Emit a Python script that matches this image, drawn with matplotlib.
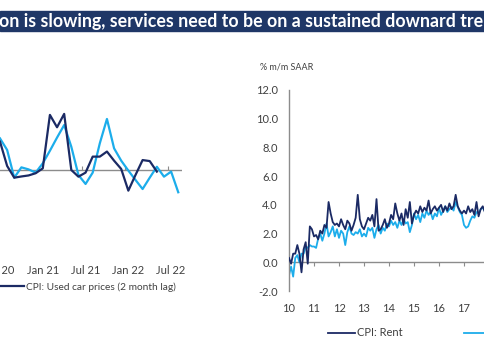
import matplotlib
matplotlib.use("Agg")
import matplotlib.pyplot as plt
from matplotlib.patches import Rectangle
import numpy as np

plt.rcParams['font.family'] = ['Lato', 'DejaVu Sans']

NAVY = "#1b2a64"
LIGHT = "#1cadeb"
AXIS = "#8c8c8c"
TXT = "#404040"
BAR = "#1f3767"

W, H = 485, 360

# -------------------------------------------------------------------------
# Left panel data: monthly, index 0 = Jul 20
# -------------------------------------------------------------------------
car_tick_pos = [-6, 0, 6, 12, 18, 24]
car_tick_labels = ["Jan 20", "Jul 20", "Jan 21", "Jul 21", "Jan 22", "Jul 22"]
used_car_index = [15.6, 9.9, -3.8, 1.3, 0.3, -1.3, 3.3, 9.5, 16.0, 22.2, 11.5, -2.5, -6.9,
                  -1.3, 13.2, 25.2, 10.7, 4.6, -0.3, -4.9, -9.4, -3.8, 1.6, -3.3, -0.8, -11.0]
cpi_used_cars_lag = [14.0, 2.0, -3.8, -3.2, -2.7, -1.6, 0.8, 27.2, 21.1, 27.7, 0.0, -3.3,
                     -1.3, 6.6, 6.6, 9.1, 4.6, 0.5, -10.2, -2.5, 4.9, 4.4, -0.8]

# -------------------------------------------------------------------------
# Right panel data: monthly from Jan 2010, % m/m SAAR
# -------------------------------------------------------------------------
rent_years = list(range(2010, 2023))
rent_tick_labels = [str(y)[2:] for y in rent_years]
cpi_rent = [0.3, -0.1, 0.6, 0.6, 1.2, 0.6, -0.7, 0.9, 1.4, -0.1, 2.5, 2.3,
            1.8, 1.9, 1.6, 2.2, 2.0, 2.6, 2.4, 4.2, 3.4, 2.8, 2.6, 2.7,
            2.5, 3.0, 2.6, 2.3, 2.9, 2.7, 2.2, 2.6, 3.1, 4.7, 3.0, 2.5,
            2.3, 2.7, 3.1, 2.9, 3.3, 2.5, 4.4, 2.2, 2.3, 2.6, 3.0, 2.4,
            2.7, 3.3, 3.0, 4.1, 3.4, 2.9, 3.4, 2.6, 3.7, 3.1, 4.2, 2.7,
            3.3, 3.6, 3.4, 3.9, 3.5, 3.8, 3.6, 4.3, 3.4, 3.7, 3.9, 3.6,
            3.8, 4.0, 3.5, 3.9, 3.6, 4.1, 3.7, 3.9, 4.7, 3.9, 3.6, 3.4,
            3.6, 3.4, 3.9, 3.5, 3.7, 3.3, 4.2, 3.2, 3.7, 3.9, 3.5, 3.8]
cpi_oer = [-0.9, -0.3, -1.0, 0.3, 0.5, 0.0, 0.6, 0.6, 1.1, 1.0, 1.2, 1.1,
           1.1, 1.0, 1.65, 2.0, 1.5, 2.0, 2.7, 1.8, 2.1, 2.5, 1.8, 2.3,
           1.7, 2.2, 2.0, 1.2, 2.1, 2.5, 2.0, 1.9, 2.1, 2.0, 2.3, 1.8,
           2.0, 1.8, 2.4, 2.2, 2.4, 1.7, 2.3, 2.6, 2.0, 2.4, 2.2, 2.7,
           2.5, 2.9, 2.6, 2.8, 2.4, 2.9, 2.6, 3.0, 2.7, 2.8, 2.1, 2.6,
           3.4, 3.0, 3.3, 2.8, 3.4, 3.1, 3.6, 3.3, 3.5, 3.0, 3.4, 3.2,
           3.8, 3.3, 3.6, 3.9, 3.5, 3.7, 3.85, 3.6, 4.2, 3.85, 3.5, 3.3,
           2.6, 2.4, 2.5, 2.9, 3.2, 3.1, 3.5, 3.4, 3.7, 3.8, 3.6, 3.9]
rent_x = 2010 + np.arange(len(cpi_rent)) / 12


def px_axes(left, top, right, bottom):
    return [left / W, 1 - bottom / H, (right - left) / W, (bottom - top) / H]


fig = plt.figure(figsize=(W / 100, H / 100), dpi=100)

# title band
fig.patches.append(Rectangle((0, 1 - 31 / H), 1, 20 / H, transform=fig.transFigure,
                             color=BAR, zorder=0))
fig.text(-1 / W, 1 - 21.5 / H, "on is slowing, services need to be on a sustained downard trend",
         color="white", fontsize=12.8, fontweight="bold", va="center", ha="left")

# -------------------------------------------------------------------------
# Left panel
# -------------------------------------------------------------------------
step = 7.13
ax1 = fig.add_axes(px_axes(-24.5 * step, 90, 25.5 * step, 252))
ax1.set_xlim(-24.5, 25.5)
ax1.set_ylim(-40.5, 39.5)
ax1.axhline(0, color=AXIS, lw=1.0, zorder=1)
ax1.plot(range(len(used_car_index)), used_car_index, color=LIGHT, lw=1.6, zorder=2)
ax1.plot(range(len(cpi_used_cars_lag)), cpi_used_cars_lag, color=NAVY, lw=1.6, zorder=3,
         label="CPI: Used car prices (2 month lag)")
for s in ax1.spines.values():
    s.set_visible(False)
ax1.set_yticks([])
ax1.set_xticks(car_tick_pos)
ax1.set_xticklabels(car_tick_labels)
ax1.tick_params(axis="x", length=0, pad=9, labelsize=8, labelcolor=TXT)
sec1 = ax1.secondary_xaxis(40.5 / 80)
for s in sec1.spines.values():
    s.set_visible(False)
sec1.set_xticks([p - 0.5 for p in car_tick_pos])
sec1.set_xticklabels([])
sec1.tick_params(axis="x", direction="out", length=3, color=AXIS, width=0.8)
ax1.legend(loc="center left", bbox_to_anchor=(-2 / W, 1 - 287 / H),
           bbox_transform=fig.transFigure, frameon=False, borderpad=0,
           borderaxespad=0, handlelength=2.6, handletextpad=0.2, fontsize=7.3,
           labelcolor=TXT)

# -------------------------------------------------------------------------
# Right panel
# -------------------------------------------------------------------------
ax2 = fig.add_axes(px_axes(289, 90, 289 + 25 * 13, 291))
ax2.set_xlim(2010, 2023)
ax2.set_ylim(-2, 12)
ax2.axhline(0, color=AXIS, lw=1.0, zorder=1)
ax2.plot(rent_x, cpi_rent, color=NAVY, lw=1.3, zorder=3, label="CPI: Rent")
ax2.plot(rent_x, cpi_oer, color=LIGHT, lw=1.3, zorder=2, label="CPI: Owners' equivalent rent")
for k in ["top", "right", "bottom"]:
    ax2.spines[k].set_visible(False)
ax2.spines["left"].set_color(AXIS)
ax2.spines["left"].set_linewidth(1.0)
ax2.set_yticks(np.arange(-2, 13, 2))
ax2.set_yticklabels([f"{v:.1f}" for v in np.arange(-2, 13, 2)])
ax2.tick_params(axis="y", length=0, pad=8, labelsize=8, labelcolor=TXT)
ax2.set_xticks(rent_years)
ax2.set_xticklabels(rent_tick_labels)
ax2.tick_params(axis="x", length=0, pad=9, labelsize=8, labelcolor=TXT)
sec2 = ax2.secondary_xaxis(2 / 14)
for s in sec2.spines.values():
    s.set_visible(False)
sec2.set_xticks(rent_years[1:])
sec2.set_xticklabels([])
sec2.tick_params(axis="x", direction="out", length=3, color=AXIS, width=0.8)
fig.text(260 / W, 1 - 67 / H, "% m/m SAAR", fontsize=6.5, color=TXT, va="center")
ax2.legend(loc="center left", bbox_to_anchor=(328 / W, 1 - 333 / H),
           bbox_transform=fig.transFigure, frameon=False, borderpad=0,
           borderaxespad=0, ncol=2, handlelength=2.4, handletextpad=0.2,
           columnspacing=5.5, fontsize=8, labelcolor=TXT)

fig.savefig("out.png", dpi=100)
